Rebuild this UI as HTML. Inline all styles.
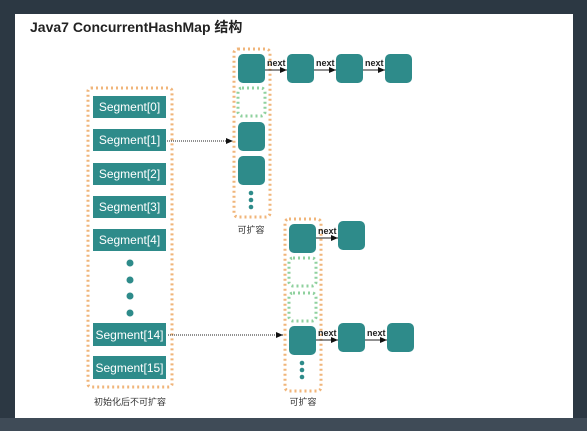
<!DOCTYPE html>
<html><head><style>
body{margin:0;width:587px;height:431px;overflow:hidden;background:#2c3843;}
svg{display:block}
text{font-family:"Liberation Sans","Noto Sans CJK SC",sans-serif;}
</style></head><body>
<svg width="587" height="431" viewBox="0 0 587 431" xmlns="http://www.w3.org/2000/svg">
<defs><marker id="a" markerWidth="8" markerHeight="8" refX="7" refY="4" orient="auto" markerUnits="userSpaceOnUse"><path d="M0,1 L7,4 L0,7 z" fill="#111"/></marker></defs>
<rect x="0" y="418" width="587" height="13" fill="#3f4b57"/>
<rect x="15" y="14" width="558" height="404" fill="#fff"/>
<text x="30" y="32" font-size="14" font-weight="bold" fill="#222">Java7 ConcurrentHashMap 结构</text>
<g fill="none" stroke="#f0b57a" stroke-width="3" stroke-dasharray="2,3">
<rect x="88" y="88" width="84" height="299" rx="3"/>
<rect x="234" y="49" width="36" height="168" rx="4"/>
<rect x="285" y="219" width="36" height="172" rx="4"/>
</g>
<g fill="none" stroke="#8fd19e" stroke-width="3" stroke-dasharray="2,3">
<rect x="238" y="88" width="27" height="28" rx="4"/>
<rect x="289" y="258" width="27" height="28" rx="4"/>
<rect x="289" y="293" width="27" height="28" rx="4"/>
</g>
<g fill="#2e8b8a">
<rect x="93" y="96" width="73" height="22"/>
<rect x="93" y="129" width="73" height="22"/>
<rect x="93" y="163" width="73" height="22"/>
<rect x="93" y="196" width="73" height="22"/>
<rect x="93" y="229" width="73" height="22"/>
<rect x="93" y="323" width="73" height="23"/>
<rect x="93" y="356" width="73" height="23"/>
<circle cx="130" cy="263" r="3.5"/><circle cx="130" cy="280" r="3.5"/><circle cx="130" cy="296" r="3.5"/><circle cx="130" cy="313" r="3.5"/>
<rect x="238" y="54" width="27" height="29" rx="5"/>
<rect x="238" y="122" width="27" height="29" rx="5"/>
<rect x="238" y="156" width="27" height="29" rx="5"/>
<circle cx="251" cy="193" r="2.3"/><circle cx="251" cy="200" r="2.3"/><circle cx="251" cy="207" r="2.3"/>
<rect x="287" y="54" width="27" height="29" rx="5"/>
<rect x="336" y="54" width="27" height="29" rx="5"/>
<rect x="385" y="54" width="27" height="29" rx="5"/>
<rect x="289" y="224" width="27" height="29" rx="5"/>
<rect x="338" y="221" width="27" height="29" rx="5"/>
<rect x="289" y="326" width="27" height="29" rx="5"/>
<rect x="338" y="323" width="27" height="29" rx="5"/>
<rect x="387" y="323" width="27" height="29" rx="5"/>
<circle cx="302" cy="363" r="2.3"/><circle cx="302" cy="370" r="2.3"/><circle cx="302" cy="377" r="2.3"/>
</g>
<g fill="#fff" font-size="12" text-anchor="middle">
<text x="129.5" y="111">Segment[0]</text>
<text x="129.5" y="144">Segment[1]</text>
<text x="129.5" y="178">Segment[2]</text>
<text x="129.5" y="211">Segment[3]</text>
<text x="129.5" y="244">Segment[4]</text>
<text x="129.5" y="339">Segment[14]</text>
<text x="129.5" y="372">Segment[15]</text>
</g>
<g stroke="#222" stroke-width="1" fill="none">
<line x1="167" y1="141" x2="233" y2="141" stroke-dasharray="1,1" marker-end="url(#a)"/>
<line x1="168" y1="335" x2="283" y2="335" stroke-dasharray="1,1" marker-end="url(#a)"/>
<line x1="265" y1="70" x2="287" y2="70" marker-end="url(#a)"/>
<line x1="314" y1="70" x2="336" y2="70" marker-end="url(#a)"/>
<line x1="363" y1="70" x2="385" y2="70" marker-end="url(#a)"/>
<line x1="316" y1="238" x2="338" y2="238" marker-end="url(#a)"/>
<line x1="316" y1="340" x2="338" y2="340" marker-end="url(#a)"/>
<line x1="365" y1="340" x2="387" y2="340" marker-end="url(#a)"/>
</g>
<g font-size="9" font-weight="bold" fill="#222">
<text x="267" y="66">next</text><text x="316" y="66">next</text><text x="365" y="66">next</text>
<text x="318" y="234">next</text><text x="318" y="336">next</text><text x="367" y="336">next</text>
</g>
<g font-size="9" fill="#333" text-anchor="middle">
<text x="251" y="233">可扩容</text>
<text x="303" y="405">可扩容</text>
<text x="130" y="405">初始化后不可扩容</text>
</g>
</svg>
</body></html>
